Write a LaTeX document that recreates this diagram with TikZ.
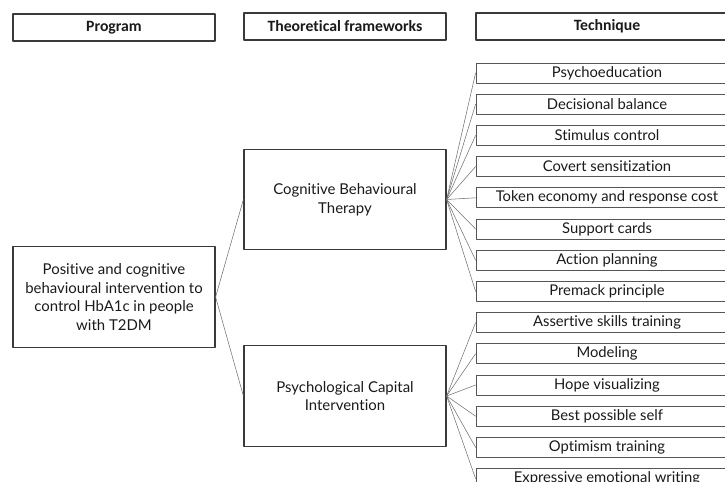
\documentclass[tikz,border=0pt]{standalone}
\usepackage{fontspec}
\setmainfont{Lato}[Ligatures=NoCommon]
\newfontfamily\headfont{Carlito}[Ligatures=NoCommon]
\usetikzlibrary{positioning}
\definecolor{BoxLine}{HTML}{3A3A3A}
\definecolor{TechLine}{HTML}{555555}
\definecolor{LinkGray}{HTML}{707070}
\definecolor{Dark}{HTML}{1A1A1A}
\tikzset{
  header/.style={draw=BoxLine,line width=1.1pt,inner sep=0pt,minimum height=20.5pt,
    font=\headfont\bfseries\fontsize{11.8}{13}\selectfont,text=Dark},
  mainbox/.style={draw=BoxLine,line width=0.9pt,inner sep=0pt,minimum width=151.5pt,
    minimum height=75.5pt,align=center,font=\fontsize{11.2}{14}\selectfont,text=Dark},
  techbox/.style={draw=TechLine,line width=0.6pt,inner sep=0pt,minimum width=196.5pt,
    minimum height=15pt,font=\fontsize{11.1}{13}\selectfont,text=Dark},
  link/.style={draw=LinkGray,line width=0.4pt},
}

\begin{document}
\begin{tikzpicture}[x=0.75pt,y=-0.75pt,line cap=round,line join=round]

% Frame of the page
\useasboundingbox (0,0) rectangle (725,482);
\clip (0,0) rectangle (725,482);

% Column headers
\node[header,minimum width=151.5pt] (hprog) at (114,27.5) {Program};
\node[header,minimum width=151.5pt] (hfram) at (345,26.5) {Theoretical frameworks};
\node[header,minimum width=196.5pt] (htech) at (607,26.5) {Technique};

% Program
\node[mainbox] (prog) at (114,297)
  {Positive and cognitive\\behavioural intervention to\\control HbA1c in people\\with T2DM};

% Theoretical frameworks
\node[mainbox] (cbt) at (345,199.5) {Cognitive Behavioural\\Therapy};
\node[mainbox] (pci) at (345,396) {Psychological Capital\\Intervention};

\draw[link] (prog.east) -- (cbt.west);
\draw[link] (prog.east) -- (pci.west);

% Techniques of CBT
\foreach \i/\lab in {0/Psychoeducation,1/Decisional balance,2/Stimulus control,
  3/Covert sensitization,4/Token economy and response cost,5/Support cards,
  6/Action planning,7/Premack principle}{
  \node[techbox] (tech\i) at (607,73+31.2*\i) {\lab};
  \draw[link] (cbt.east) -- (tech\i.west);
}

% Techniques of PCI
\foreach \i/\lab in {8/Assertive skills training,9/Modeling,10/Hope visualizing,
  11/Best possible self,12/Optimism training,13/Expressive emotional writing}{
  \node[techbox] (tech\i) at (607,73+31.2*\i) {\lab};
  \draw[link] (pci.east) -- (tech\i.west);
}

\end{tikzpicture}
\end{document}
